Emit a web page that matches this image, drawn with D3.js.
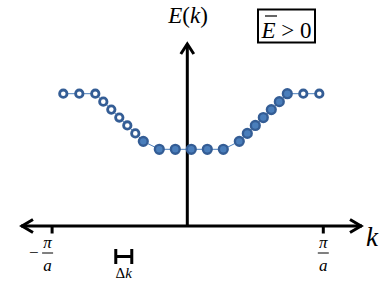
<!DOCTYPE html>
<html><head><meta charset="utf-8">
<script src="https://cdn.jsdelivr.net/npm/d3@7"></script>
<style>body{margin:0;background:#fff}svg{display:block}
text{font-family:"Liberation Serif","DejaVu Serif","Times New Roman",serif}</style>
</head><body>
<script>
// k in units of Δk, E in arbitrary level units
const kValues = [-8,-7,-6,-5.5,-5,-4.5,-4,-3.5,-3,-2,-1,0,1,2,3,3.5,4,4.5,5,5.5,6,7,8];
const eValues = [8,8,8,7,6,5,4,3,2,1,1,1,1,1,2,3,4,5,6,7,8,8,8];
const occupied = [0,0,0,0,0,0,0,0,1,1,1,1,1,1,1,1,1,1,1,1,1,0,0];
const kTicks = [-8.7, 8.25];
const kTickLabels = ["−π/a", "π/a"];
const kAxisPos = -0.25;
const deltaK = 1, deltaKStart = -4.72;

const W = 391, H = 285;
const svg = d3.select("body").append("svg").attr("width", W).attr("height", H);
const x = d3.scaleLinear().domain([-8, 8]).range([63.3, 319.3]);
const y = d3.scaleLinear().domain([1, 8]).range([149.3, 93.7]);
const axisY = 226;

// axes
const ax = x(kAxisPos);
svg.append("line").attr("x1", 21).attr("x2", 362).attr("y1", axisY).attr("y2", axisY)
  .attr("stroke", "#000").attr("stroke-width", 3);
svg.append("line").attr("x1", ax).attr("x2", ax).attr("y1", axisY).attr("y2", 44)
  .attr("stroke", "#000").attr("stroke-width", 3);
const arrow = pts => svg.append("path").attr("d", d3.line()(pts)).attr("fill", "none")
  .attr("stroke", "#000").attr("stroke-width", 3).attr("stroke-linejoin", "miter").attr("stroke-linecap", "butt");
arrow([[33, axisY - 6.5], [22, axisY], [33, axisY + 6.5]]);
arrow([[350, axisY - 6.5], [361, axisY], [350, axisY + 6.5]]);
arrow([[ax - 6.5, 54], [ax, 44], [ax + 6.5, 54]]);

// ticks
svg.selectAll(".tick").data(kTicks).join("line")
  .attr("x1", d => x(d)).attr("x2", d => x(d)).attr("y1", axisY).attr("y2", axisY + 7.5)
  .attr("stroke", "#000").attr("stroke-width", 3);

// tick labels (fractions)
kTicks.forEach((t, i) => {
  const cx = x(t) - (i === 0 ? 4.5 : 0);
  svg.append("text").attr("x", cx).attr("y", 248).attr("text-anchor", "middle")
    .attr("font-style", "italic").attr("font-size", 17).text("π");
  svg.append("line").attr("x1", cx - 5.5).attr("x2", cx + 5.5).attr("y1", 253).attr("y2", 253)
    .attr("stroke", "#000").attr("stroke-width", 1);
  svg.append("text").attr("x", cx).attr("y", 271).attr("text-anchor", "middle")
    .attr("font-style", "italic").attr("font-size", 17).text("a");
  if (kTickLabels[i].startsWith("−")) {
    svg.append("text").attr("x", cx - 9).attr("y", 258).attr("text-anchor", "end")
      .attr("font-size", 17).text("−");
  }
});

// connecting line
const pts = kValues.map((k, i) => [x(k), y(eValues[i])]);
svg.append("path").attr("d", d3.line()(pts)).attr("fill", "none")
  .attr("stroke", "#4a7ebb").attr("stroke-width", 1);

// points
svg.selectAll(".pt").data(kValues).join("circle")
  .attr("cx", d => x(d)).attr("cy", (d, i) => y(eValues[i]))
  .attr("r", (d, i) => occupied[i] ? 4.4 : 3.7)
  .attr("fill", (d, i) => occupied[i] ? "#4a7ebb" : "#fff")
  .attr("stroke", "#345d95").attr("stroke-width", (d, i) => occupied[i] ? 2.4 : 2.8);

// Δk bracket
const bx0 = x(deltaKStart), bx1 = x(deltaKStart + deltaK);
svg.append("path").attr("d", `M${bx0},249V264M${bx1},249V264M${bx0},256.5H${bx1}`)
  .attr("fill", "none").attr("stroke", "#000").attr("stroke-width", 3);
const dk = svg.append("text").attr("x", (bx0 + bx1) / 2).attr("y", 278).attr("text-anchor", "middle")
  .attr("font-size", 15);
dk.append("tspan").text("Δ");
dk.append("tspan").attr("font-style", "italic").text("k");

// axis labels
svg.append("text").attr("x", 366).attr("y", 246)
  .attr("font-style", "italic").attr("font-size", 27).text("k");
const ek = svg.append("text").attr("x", 188).attr("y", 23).attr("text-anchor", "middle")
  .attr("font-size", 23);
ek.append("tspan").attr("font-style", "italic").text("E");
ek.append("tspan").text("(");
ek.append("tspan").attr("font-style", "italic").text("k");
ek.append("tspan").text(")");

// boxed note
svg.append("rect").attr("x", 258).attr("y", 9.5).attr("width", 57).attr("height", 33)
  .attr("fill", "#fff").attr("stroke", "#000").attr("stroke-width", 2);
const note = svg.append("text").attr("x", 286.5).attr("y", 38).attr("text-anchor", "middle")
  .attr("font-size", 23);
note.append("tspan").attr("font-style", "italic").text("E");
note.append("tspan").text(" > 0");
svg.append("line").attr("x1", 265).attr("x2", 277).attr("y1", 16).attr("y2", 16)
  .attr("stroke", "#000").attr("stroke-width", 1.2);
</script>
</body></html>
